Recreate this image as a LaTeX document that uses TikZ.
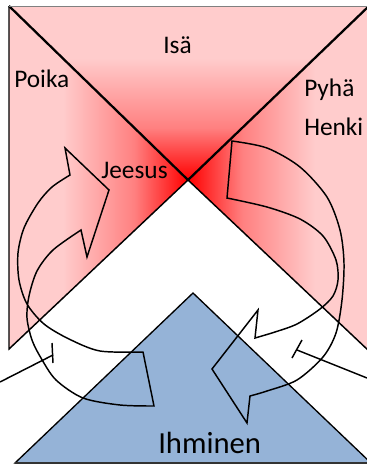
\documentclass[tikz,border=0pt]{standalone}
\usepackage{fontspec}
\setmainfont{Carlito}
\usetikzlibrary{calc}
\definecolor{pinklight}{RGB}{255,204,204}
\definecolor{pinkmid}{RGB}{255,128,128}
\definecolor{manblue}{RGB}{149,179,215}
\pgfdeclarehorizontalshading{sonshade}{100bp}{color(0bp)=(pinklight); color(40bp)=(pinklight); color(60bp)=(pinkmid); color(75bp)=(red); color(100bp)=(red)}
\pgfdeclarehorizontalshading{spiritshade}{100bp}{color(0bp)=(red); color(25bp)=(red); color(40bp)=(pinkmid); color(60bp)=(pinklight); color(100bp)=(pinklight)}
\pgfdeclareverticalshading{fathershade}{100bp}{color(0bp)=(red); color(25bp)=(red); color(40bp)=(pinkmid); color(60bp)=(pinklight); color(100bp)=(pinklight)}
\tikzset{
    tri_edge/.style={draw=black, line width=1.1pt},
    diag_edge/.style={draw=black, line width=1.7pt},
    man_tri/.style={fill=manblue, draw=black, line width=1pt},
    curve_arrow/.style={draw=black, line width=1.1pt, line join=miter},
    tick_line/.style={draw=black, line width=1.1pt},
    lbl/.style={font=\fontsize{19}{22}\selectfont, inner sep=0pt, anchor=base west},
    lbl_big/.style={font=\fontsize{23}{27}\selectfont, inner sep=0pt, anchor=base west}
}
\begin{document}
\begin{tikzpicture}[x=0.75pt, y=-0.75pt]
    \useasboundingbox (0,0) rectangle (367,468);
    \clip (0,0) rectangle (367,468);

    % Corners
    \coordinate (tl) at (9,6);
    \coordinate (tr) at (369,6);
    \coordinate (bl) at (9,349);
    \coordinate (br) at (369,351);
    \coordinate (apex) at (188,180);
    \coordinate (htop) at (193,293);
    \coordinate (hleft) at (15,463);
    \coordinate (hright) at (371,463);

    % Pink triangles
    \shade[shading=fathershade] (tl) -- (tr) -- (apex) -- cycle;
    \shade[shading=sonshade] (tl) -- (apex) -- (bl) -- cycle;
    \shade[shading=spiritshade] (tr) -- (br) -- (apex) -- cycle;
    \draw[tri_edge] (tl) -- (bl) -- (apex) -- (br);
    \draw[diag_edge] (tl) -- (apex) -- (tr);
    \draw[gray, line width=0.6pt] (tl) -- (tr);

    % Blue triangle
    \draw[man_tri] (hleft) -- (htop) -- (hright) -- cycle;
    \draw[black!80, line width=1.5pt] (hleft) -- (hright);

    % Labels
    \node[lbl] (isa) at (163,53) {Isä};
    \node[lbl] (poika) at (14,87) {Poika};
    \node[lbl] (jeesus) at (101,178) {Jeesus};
    \node[lbl] (pyha) at (304,96) {Pyhä};
    \node[lbl] (henki) at (304,135) {Henki};
    \node[lbl_big] (ihminen) at (158,453) {Ihminen};

    % Left circular arrow
    \draw[curve_arrow] plot[smooth] coordinates {(143,352) (100,351) (69,339) (44,324) (27,304) (19,280) (18,253) (24,228) (38,203) (52,187) (70,175)}
        -- (65,148) -- (109,190) -- (87,257) -- (81,230)
        -- plot[smooth] coordinates {(81,230) (53,250) (37,271) (29,296) (27,318) (32,340) (41,358) (56,380) (83,398) (120,405) (154,406)}
        -- cycle;

    % Right circular arrow
    \draw[curve_arrow] plot[smooth] coordinates {(227,198) (267,207) (300,219) (323,236) (336,260) (338,280) (333,296) (320,309) (297,324) (275,332) (255,338)}
        -- (258,310) -- (212,369) -- (247,423) -- (250,396)
        -- plot[smooth] coordinates {(250,396) (267,391) (297,380) (323,357) (336,333) (342,300) (344,263) (340,230) (327,197) (300,167) (267,148) (232,141)}
        -- cycle;

    % Side lines
    \coordinate (lend) at (0,382);
    \coordinate (lbar) at (53,355);
    \coordinate (rend) at (367,378);
    \coordinate (rbar) at (297,350);
    \draw[tick_line] (lend) -- (lbar);
    \draw[tick_line] ($(lbar)+(-1,-12)$) -- ($(lbar)+(0,8)$);
    \draw[tick_line] (rend) -- (rbar);
    \draw[tick_line] ($(rbar)+(5,-10)$) -- ($(rbar)+(-5,8)$);
\end{tikzpicture}
\end{document}
